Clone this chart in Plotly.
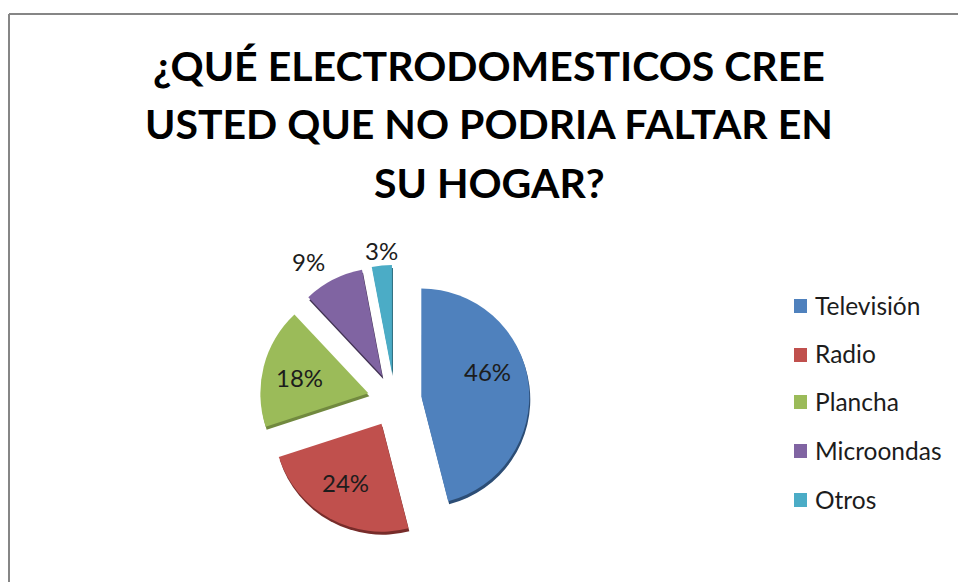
import plotly.graph_objects as go

W, H = 958, 582

categories = ["Televisión", "Radio", "Plancha", "Microondas", "Otros"]
values = [46, 24, 18, 9, 3]
colors = ["#4F81BD", "#C0504D", "#9BBB59", "#8064A2", "#4BACC6"]
edge_colors = ["#2C4D75", "#772C2A", "#71893F", "#403152", "#276A7C"]
label_x = [487, 345, 299, 308, 381]
label_y = [372, 482, 377, 261, 250]
title_lines = [
    "¿QUÉ ELECTRODOMESTICOS CREE",
    "USTED QUE NO PODRIA FALTAR EN",
    "SU HOGAR?",
]
title_line_y = [65, 123, 182]
legend_y = [305, 354, 401, 450, 499]

FONT = "Lato"
CENTER_X, CENTER_Y = 394.5, 400
RADIUS = 108
PULL = 0.25
DEPTH = 3


def pie_domain(cx, cy):
    half = RADIUS * (1 + PULL)
    return dict(
        x=[(cx - half) / W, (cx + half) / W],
        y=[1 - (cy + half) / H, 1 - (cy - half) / H],
    )


def px(x):
    return x / W


def py(y):
    return 1 - y / H


fig = go.Figure()

# Darker copy underneath gives the slices their raised edge
fig.add_trace(go.Pie(
    labels=categories, values=values, sort=False, direction="clockwise", rotation=0,
    pull=PULL, domain=pie_domain(CENTER_X + 1, CENTER_Y + DEPTH),
    marker=dict(colors=edge_colors, line=dict(width=0)),
    textinfo="none", hoverinfo="skip", showlegend=False,
))

fig.add_trace(go.Pie(
    labels=categories, values=values, sort=False, direction="clockwise", rotation=0,
    pull=PULL, domain=pie_domain(CENTER_X, CENTER_Y),
    marker=dict(colors=colors, line=dict(width=0)),
    textinfo="none", showlegend=False,
))

shapes = [
    # Chart frame: top and left rules
    dict(type="line", xref="paper", yref="paper", x0=px(9), x1=1, y0=py(14), y1=py(14),
         line=dict(color="#868686", width=2)),
    dict(type="line", xref="paper", yref="paper", x0=px(9), x1=px(9), y0=py(14), y1=0,
         line=dict(color="#868686", width=2)),
]
annotations = [
    dict(text=line, xref="paper", yref="paper", x=px(489), y=py(y), xanchor="center",
         yanchor="middle", showarrow=False,
         font=dict(family=FONT, size=41, color="#000000", weight="bold"))
    for line, y in zip(title_lines, title_line_y)
]

# Percentage labels, placed by hand around the exploded slices
for value, x, y in zip(values, label_x, label_y):
    annotations.append(dict(text=f"{value}%", xref="paper", yref="paper", x=px(x), y=py(y),
                            xanchor="center", yanchor="middle", showarrow=False,
                            font=dict(family=FONT, size=24, color="#1c1c1c")))

# Legend column with wide row spacing
for name, color, y, box_y in zip(categories, colors, legend_y, [306, 355, 402, 451, 500]):
    shapes.append(dict(type="rect", xref="paper", yref="paper",
                       x0=px(794), x1=px(807), y0=py(box_y + 7), y1=py(box_y - 7),
                       fillcolor=color, line=dict(width=0)))
    annotations.append(dict(text=name, xref="paper", yref="paper", x=px(813), y=py(y),
                            xanchor="left", yanchor="middle", showarrow=False,
                            font=dict(family=FONT, size=24.5, color="#1c1c1c")))

fig.update_layout(
    width=W, height=H, margin=dict(l=0, r=0, t=0, b=0),
    paper_bgcolor="#ffffff", showlegend=False,
    shapes=shapes, annotations=annotations,
)

fig.write_html("out.html")
